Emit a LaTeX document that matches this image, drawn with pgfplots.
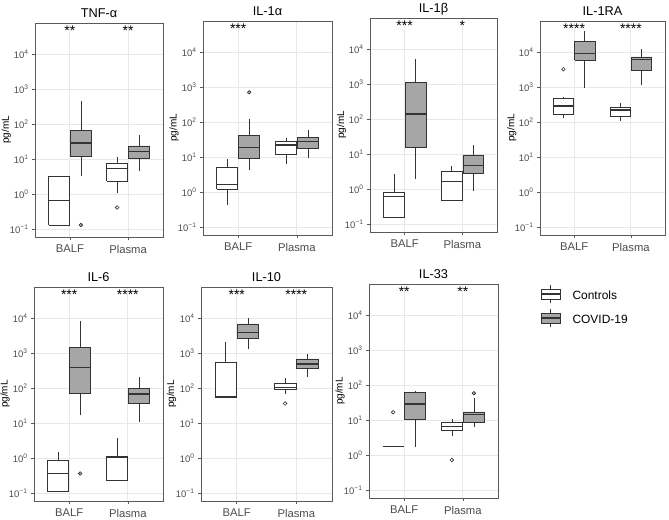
\documentclass[border=0pt]{standalone}
\usepackage{fontspec}
\setmainfont{Liberation Sans}
\usepackage{pgfplots}
\pgfplotsset{compat=1.18}

\definecolor{covfill}{RGB}{166,166,166}
\definecolor{edge}{RGB}{51,51,51}
\definecolor{frame}{RGB}{90,90,90}
\definecolor{gridc}{RGB}{232,232,232}
\definecolor{tickc}{RGB}{77,77,77}

\pgfplotsset{
  cytopanel/.style={
    scale only axis, anchor=north west, height=214bp,
    ymin=0.0589, ymax=76900, xmin=0.4, xmax=2.6,
    xtick={1,2}, xticklabels={BALF,Plasma},
    ytick={0.1,1,10,100,1000,10000},
    yticklabels={10\textsuperscript{−1},10\textsuperscript{0},10\textsuperscript{1},10\textsuperscript{2},10\textsuperscript{3},10\textsuperscript{4}},
    yminorticks=false,
    grid=major, major grid style={draw=gridc, line width=0.9bp},
    axis line style={draw=frame, line width=0.7bp},
    tick style={draw=frame, line width=0.6bp},
    major tick length=3bp, tick align=outside, tick pos=left,
    yticklabel style={font=\fontsize{9.5}{10}\selectfont, text=tickc},
    xticklabel style={font=\fontsize{11.3}{12}\selectfont, text=tickc, yshift=-1.5bp},
    ylabel={pg/mL},
    ylabel style={at={(axis description cs:-0.225,0.5)}, anchor=center,
      font=\fontsize{10}{10}\selectfont},
    title style={at={(axis description cs:0.5,1)}, anchor=base, yshift=-0.5bp,
      font=\fontsize{12.8}{13}\selectfont},
  },
}

% one box: #1 left, #2 centre, #3 right, #4 fill,
% #5 lower whisker, #6 lower quartile, #7 median, #8 upper quartile, #9 upper whisker
\newcommand{\bx}[9]{%
  \addplot[draw=edge, line width=0.6bp] coordinates {(#2,#5) (#2,#6)};
  \addplot[draw=edge, line width=0.6bp] coordinates {(#2,#8) (#2,#9)};
  \addplot[draw=edge, fill=#4, line width=0.6bp] coordinates {(#1,#6) (#3,#6) (#3,#8) (#1,#8) (#1,#6)};
  \addplot[draw=edge, line width=1.3bp] coordinates {(#1,#7) (#3,#7)};
}
% four slots: BALF controls, BALF COVID-19, Plasma controls, Plasma COVID-19
\newcommand{\bc}[5]{\bx{0.6325}{0.8125}{0.9925}{white}{#1}{#2}{#3}{#4}{#5}}
\newcommand{\bv}[5]{\bx{1.0075}{1.1875}{1.3675}{covfill}{#1}{#2}{#3}{#4}{#5}}
\newcommand{\pc}[5]{\bx{1.6325}{1.8125}{1.9925}{white}{#1}{#2}{#3}{#4}{#5}}
\newcommand{\pv}[5]{\bx{2.0075}{2.1875}{2.3675}{covfill}{#1}{#2}{#3}{#4}{#5}}
% outliers
\newcommand{\outc}{\addplot[only marks, mark=*, mark size=1.8bp, mark options={fill=white, draw=edge, line width=0.6bp}] coordinates}
\newcommand{\outv}{\addplot[only marks, mark=*, mark size=1.8bp, mark options={fill=covfill, draw=edge, line width=0.6bp}] coordinates}
\newcommand{\stars}[2]{\node[font=\fontsize{14}{14}\selectfont, anchor=base] at (axis cs:#1,33000) {#2};}

\begin{document}
\begin{tikzpicture}
\useasboundingbox (0,0) rectangle (669bp,-520bp);

% TNF-alpha
\begin{axis}[cytopanel, ymode=log, at={(35bp,-23bp)}, width=128bp, title={TNF-α}]
  \bc{0.127}{0.127}{0.66}{3.2}{3.2}
  \bv{3.2}{11.9}{28.7}{65}{464}
  \pc{1.05}{2.35}{5.3}{7.7}{11.6}
  \pv{4.6}{10.2}{16.2}{23.5}{48.5}
  \outv {(1.1875,0.13)};
  \outc {(1.8125,0.41)};
  \stars{1}{**}
  \stars{2}{**}
\end{axis}

% IL-1alpha
\begin{axis}[cytopanel, ymode=log, at={(203bp,-21bp)}, width=129bp, title={IL-1α}]
  \bc{0.42}{1.19}{1.66}{5.0}{8.9}
  \bv{4.3}{9.0}{18.5}{41}{124}
  \pc{6.2}{11.7}{22}{28}{35.7}
  \pv{9.6}{18}{27.4}{37}{60}
  \outv {(1.1875,705)};
  \stars{1}{***}
\end{axis}

% IL-1beta
\begin{axis}[cytopanel, ymode=log, at={(370bp,-18bp)}, width=127bp, title={IL-1β}]
  \bc{0.15}{0.15}{0.60}{0.80}{2.7}
  \bv{1.93}{15.2}{139}{1140}{5070}
  \pc{0.47}{0.47}{1.62}{3.2}{4.5}
  \pv{0.9}{2.87}{4.6}{9.4}{17.7}
  \stars{1}{***}
  \stars{2}{*}
\end{axis}

% IL-1RA
\begin{axis}[cytopanel, ymode=log, at={(540bp,-21bp)}, width=125bp, title={IL-1RA}]
  \bc{133}{166}{287}{464}{530}
  \bv{916}{5780}{9170}{19700}{40000}
  \pc{107}{142}{220}{257}{357}
  \pv{1140}{3000}{6170}{7200}{12400}
  \outc {(0.8125,3200)};
  \stars{1}{****}
  \stars{2}{****}
\end{axis}

% IL-6
\begin{axis}[cytopanel, ymode=log, at={(34bp,-287bp)}, width=129bp, title={IL-6}]
  \bc{0.11}{0.11}{0.36}{0.88}{1.48}
  \bv{16.6}{69}{381}{1420}{8200}
  \pc{0.235}{0.235}{1.07}{1.12}{3.7}
  \pv{10.9}{37}{67}{98}{206}
  \outv {(1.1875,0.36)};
  \stars{1}{***}
  \stars{2}{****}
\end{axis}

% IL-10
\begin{axis}[cytopanel, ymode=log, at={(201bp,-287bp)}, width=131bp, title={IL-10}]
  \bc{55}{55}{57}{553}{2020}
  \bv{1300}{2570}{3890}{6740}{10000}
  \pc{69}{94}{104}{133}{197}
  \pv{206}{357}{485}{675}{955}
  \outc {(1.8125,36)};
  \stars{1}{***}
  \stars{2}{****}
\end{axis}

% IL-33
\begin{axis}[cytopanel, ymode=log, at={(369bp,-284bp)}, width=129bp, title={IL-33}]
  \bc{1.73}{1.73}{1.73}{1.73}{1.73}
  \bv{1.73}{10.2}{28.7}{63}{66}
  \pc{3.5}{5.2}{6.6}{8.4}{10.9}
  \pv{6.2}{8.8}{14.2}{17}{42.5}
  \outc {(0.8125,16.6) (1.8125,0.72)};
  \outv {(2.1875,58)};
  \stars{1}{**}
  \stars{2}{**}
\end{axis}

% legend
\draw[edge, line width=0.6bp] (550.5bp,-285bp) -- (550.5bp,-303bp);
\draw[edge, line width=0.6bp, fill=white] (541bp,-289bp) rectangle (560bp,-299bp);
\draw[edge, line width=1.1bp] (541bp,-294bp) -- (560bp,-294bp);
\node[anchor=west, font=\fontsize{12}{12}\selectfont] at (569bp,-295bp) {Controls};
\draw[edge, line width=0.6bp] (550.5bp,-309bp) -- (550.5bp,-327bp);
\draw[edge, line width=0.6bp, fill=covfill] (541bp,-313bp) rectangle (560bp,-323bp);
\draw[edge, line width=1.1bp] (541bp,-318bp) -- (560bp,-318bp);
\node[anchor=west, font=\fontsize{12}{12}\selectfont] at (569bp,-319bp) {COVID-19};
\end{tikzpicture}
\end{document}
